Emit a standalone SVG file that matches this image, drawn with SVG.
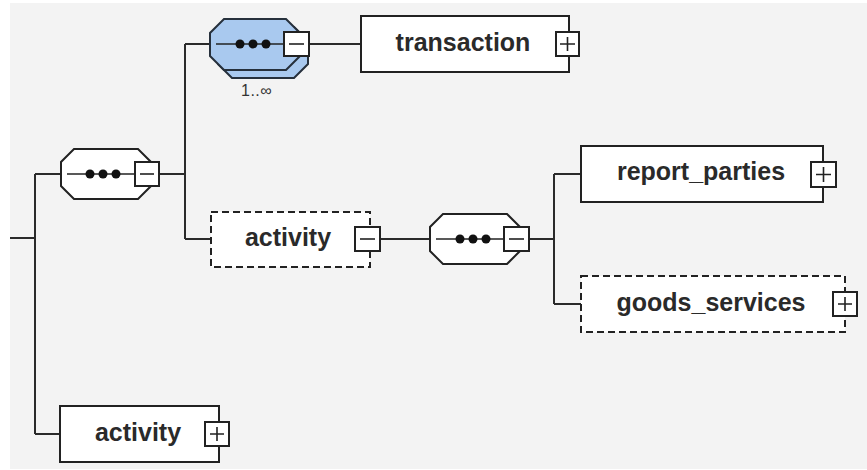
<svg xmlns="http://www.w3.org/2000/svg" width="867" height="470" viewBox="0 0 867 470">
<defs>
<style>
.bg{fill:#f3f3f3}
.box{fill:#ffffff;stroke:#222;stroke-width:2}
.dash{fill:#ffffff;stroke:#222;stroke-width:2;stroke-dasharray:7 4}
.oct{fill:#ffffff;stroke:#222;stroke-width:2}
.octb{fill:#a9c9ef;stroke:#26303c;stroke-width:2}
.pm{fill:#ffffff;stroke:#222;stroke-width:2}
.sym{stroke:#222;stroke-width:1.6;fill:none}
.line{stroke:#2a2a2a;stroke-width:2;fill:none}
.inner{stroke:#222;stroke-width:1.6;fill:none}
.dot{fill:#111}
.lbl{font-family:"Liberation Sans",Arial,sans-serif;font-weight:bold;font-size:25px;fill:#2a2a2a;text-anchor:middle}
.occ{font-family:"Liberation Sans",Arial,sans-serif;font-size:16px;fill:#333;letter-spacing:0.5px}
</style>
</defs>
<rect x="0" y="0" width="867" height="470" fill="#ffffff"/>
<rect class="bg" x="10" y="3" width="857" height="466"/>

<g id="connectors">
<path class="line" d="M10,238 H35 M35,174 V434 M35,174 H61 M35,434 H60"/>
<path class="line" d="M159,174 H185 M185,44 V239 M185,44 H210 M185,239 H211"/>
<path class="line" d="M309,44 H361"/>
<path class="line" d="M380,239 H430"/>
<path class="line" d="M529,239 H554 M554,174 V304 M554,174 H581 M554,304 H581"/>
</g>

<g id="seq-root">
<path class="oct" d="M74,149 H138 L151,162 V186 L138,199 H74 L61,186 V162 Z"/>
<path class="inner" d="M67,174 H135"/>
<circle class="dot" cx="90" cy="174" r="4.5"/>
<circle class="dot" cx="103" cy="174" r="4.5"/>
<circle class="dot" cx="116" cy="174" r="4.5"/>
<rect class="pm" x="135" y="162" width="24" height="24"/>
<path class="sym" d="M140,174 H154"/>
</g>

<g id="seq-transaction">
<path class="octb" d="M232,27 H294 L308,41 V64 L294,78 H232 L218,64 V41 Z"/>
<path class="octb" d="M224,19 H286 L300,33 V56 L286,70 H224 L210,56 V33 Z"/>
<path class="inner" d="M216,44 H284"/>
<circle class="dot" cx="240" cy="44" r="4.5"/>
<circle class="dot" cx="253" cy="44" r="4.5"/>
<circle class="dot" cx="266" cy="44" r="4.5"/>
<rect class="pm" x="284" y="32" width="25" height="24"/>
<path class="sym" d="M289,44 H304"/>
<text class="occ" x="241" y="96">1..∞</text>
</g>

<g id="transaction">
<rect class="box" x="361" y="16" width="208" height="56"/>
<text class="lbl" x="463" y="51">transaction</text>
<rect class="pm" x="556" y="32" width="23" height="24"/>
<path class="sym" d="M560,44 H575 M567.5,37 V51"/>
</g>

<g id="activity-optional">
<rect class="dash" x="211" y="212" width="159" height="55"/>
<text class="lbl" x="288" y="246">activity</text>
<rect class="pm" x="355" y="227" width="25" height="24"/>
<path class="sym" d="M360,239 H375"/>
</g>

<g id="seq-activity">
<path class="oct" d="M443,214 H507 L520,227 V251 L507,264 H443 L430,251 V227 Z"/>
<path class="inner" d="M436,239 H504"/>
<circle class="dot" cx="460" cy="239" r="4.5"/>
<circle class="dot" cx="473" cy="239" r="4.5"/>
<circle class="dot" cx="486" cy="239" r="4.5"/>
<rect class="pm" x="504" y="227" width="25" height="24"/>
<path class="sym" d="M509,239 H524"/>
</g>

<g id="report_parties">
<rect class="box" x="581" y="146" width="242" height="56"/>
<text class="lbl" x="701" y="180">report_parties</text>
<rect class="pm" x="811" y="162" width="25" height="25"/>
<path class="sym" d="M816,174.5 H831 M823.5,167 V182"/>
</g>

<g id="goods_services">
<rect class="dash" x="581" y="276" width="264" height="56"/>
<text class="lbl" x="711" y="311">goods_services</text>
<rect class="pm" x="833" y="292" width="24" height="24"/>
<path class="sym" d="M838,304 H852 M845,297 V311"/>
</g>

<g id="activity">
<rect class="box" x="60" y="406" width="159" height="56"/>
<text class="lbl" x="138" y="441">activity</text>
<rect class="pm" x="205" y="422" width="24" height="24"/>
<path class="sym" d="M210,434 H224 M217,427 V441"/>
</g>
</svg>
